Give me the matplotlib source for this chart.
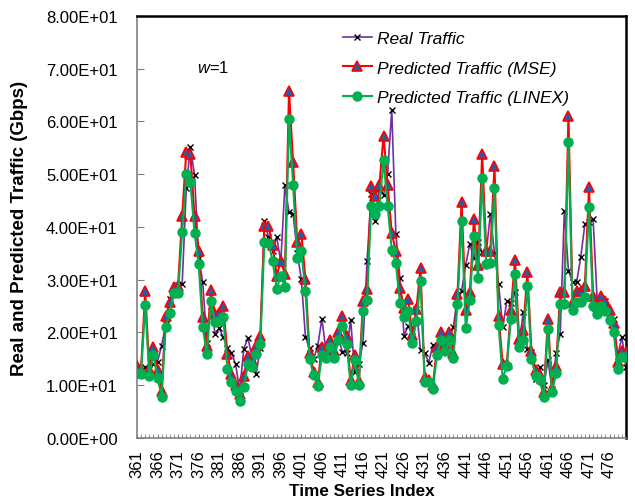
import matplotlib
matplotlib.use('Agg')
import matplotlib.pyplot as plt
from matplotlib.ticker import FuncFormatter, MultipleLocator

plt.rcParams['font.family'] = ['Liberation Sans', 'DejaVu Sans']
plt.rcParams['mathtext.fontset'] = 'custom'
plt.rcParams['mathtext.it'] = 'Liberation Sans:italic'
plt.rcParams['mathtext.rm'] = 'Liberation Sans'

START_INDEX = 361

real_traffic = [
    13.5, 12.5, 13.4, 13.0, 14.0, 14.5, 17.5, 21.6, 26.3, 28.2,
    29.0, 29.2, 47.3, 55.2, 49.9, 34.2, 29.6, 18.1, 25.1, 19.8,
    20.8, 19.1, 17.0, 16.2, 14.0, 9.0, 16.9, 19.0, 15.3, 12.1,
    17.0, 41.2, 38.1, 35.5, 38.1, 33.4, 47.9, 42.8, 42.5, 35.1,
    30.1, 19.1, 17.0, 15.0, 17.5, 22.6, 16.5, 15.9, 15.7, 19.0,
    16.3, 16.2, 22.4, 12.5, 14.0, 18.0, 33.6, 46.3, 41.2, 47.2,
    46.1, 50.1, 62.2, 38.7, 30.3, 19.4, 21.3, 19.4, 24.5, 16.6,
    16.1, 14.3, 17.6, 16.5, 17.5, 18.3, 19.0, 21.0, 27.0, 27.9,
    32.8, 36.8, 34.1, 37.2, 35.2, 35.2, 42.5, 35.0, 29.2, 21.0,
    25.9, 25.6, 27.6, 17.8, 23.8, 16.9, 16.3, 11.2, 13.4, 10.0,
    14.7, 9.3, 16.1, 19.7, 43.1, 31.7, 29.5, 29.6, 34.3, 40.6,
    41.0, 41.5, 26.0, 25.5, 26.0, 22.6, 22.6, 15.6, 19.2, 13.4,
]

pred_mse = [
    13.7, 13.0, 27.8, 13.0, 17.2, 12.8, 9.0, 23.2, 25.8, 28.7,
    28.9, 42.1, 54.2, 53.8, 42.1, 35.5, 23.0, 17.5, 28.1, 23.5,
    23.7, 25.0, 15.9, 12.1, 10.0, 8.3, 11.8, 15.5, 14.7, 17.5,
    19.4, 40.2, 40.2, 36.5, 30.8, 33.6, 31.1, 65.7, 52.3, 37.1,
    38.7, 30.1, 16.1, 12.5, 10.6, 17.3, 16.1, 18.5, 16.5, 20.1,
    23.1, 19.4, 11.0, 15.7, 10.8, 26.0, 28.2, 47.8, 45.9, 48.0,
    57.3, 48.0, 38.8, 35.5, 28.4, 24.6, 26.3, 19.5, 24.5, 32.2,
    11.5, 11.0, 10.0, 17.2, 20.0, 17.8, 20.0, 16.1, 27.3, 44.8,
    24.2, 27.6, 41.5, 32.7, 53.8, 35.5, 35.5, 51.6, 23.1, 14.0,
    14.0, 24.3, 33.8, 18.8, 20.5, 31.4, 16.5, 12.8, 12.0, 8.7,
    22.6, 9.5, 13.7, 27.6, 27.6, 61.0, 25.7, 27.9, 27.9, 28.9,
    47.5, 26.9, 25.0, 27.0, 26.0, 24.2, 21.8, 14.5, 16.5, 16.3,
]

pred_linex = [
    12.4, 12.1, 25.3, 11.8, 15.8, 11.4, 7.8, 21.1, 23.7, 27.5,
    27.5, 39.0, 50.0, 48.5, 38.9, 33.0, 21.0, 16.0, 26.0, 21.9,
    22.1, 22.9, 13.1, 10.7, 9.0, 7.1, 9.6, 14.0, 13.4, 15.9,
    17.8, 37.1, 37.0, 33.6, 28.3, 30.8, 28.6, 60.4, 48.0, 34.1,
    35.5, 27.8, 14.9, 12.0, 9.9, 15.7, 15.1, 17.2, 15.1, 18.5,
    21.3, 17.8, 10.1, 14.7, 10.1, 24.1, 26.2, 44.0, 42.5, 44.0,
    52.7, 44.0, 35.7, 33.1, 25.5, 22.9, 24.0, 18.1, 22.2, 29.8,
    10.7, 10.7, 9.3, 15.7, 18.5, 16.4, 18.5, 15.1, 25.4, 41.2,
    20.8, 26.2, 38.2, 30.3, 49.3, 33.0, 33.2, 47.4, 21.4, 11.2,
    13.7, 22.6, 31.1, 17.2, 18.5, 28.9, 15.0, 11.8, 10.9, 7.8,
    20.7, 8.7, 12.3, 25.4, 25.4, 56.1, 24.3, 25.7, 25.7, 26.7,
    43.7, 25.0, 23.5, 25.1, 24.0, 22.4, 20.0, 13.1, 15.3, 15.3,
]

index = list(range(START_INDEX, START_INDEX + len(real_traffic)))

fig = plt.figure(figsize=(6.35, 5.02), dpi=100)
ax = fig.add_axes([0.2157, 0.1255, 0.7701, 0.8407])

ax.plot(index, real_traffic, color='#7030A0', lw=1.2, marker='x', ms=5,
        mec='black', mew=1.0, label='Real Traffic', zorder=3)
ax.plot(index, pred_mse, color='#FF0000', lw=1.5, marker='^', ms=6.5,
        mfc='#1F5FAF', mec='#FF0000', mew=1.2, label='Predicted Traffic (MSE)', zorder=4)
ax.plot(index, pred_linex, color='#00B050', lw=1.5, marker='o', ms=6.5,
        mfc='#00B050', mec='#00B050', label='Predicted Traffic (LINEX)', zorder=5)

ax.set_xlim(index[0], index[-1])
ax.set_ylim(0, 80)
ax.yaxis.set_major_locator(MultipleLocator(10))
ax.yaxis.set_major_formatter(FuncFormatter(lambda v, p: f'{v:.2E}'))
ax.set_xticks(index[::5])
ax.set_xticklabels([str(i) for i in index[::5]], rotation=90)
ax.xaxis.set_minor_locator(MultipleLocator(1))

ax.tick_params(axis='y', direction='in', length=5, color='#808080', labelsize=12, pad=14)
ax.tick_params(axis='x', which='both', direction='in', length=3, color='#808080', labelsize=12, pad=8)

for side in ['left', 'bottom']:
    ax.spines[side].set_color('#808080')
    ax.spines[side].set_linewidth(1.2)
for side in ['top', 'right']:
    ax.spines[side].set_color('black')
    ax.spines[side].set_linewidth(1.8)

ax.set_xlabel('Time Series Index', fontsize=12.3, fontweight='bold')
ax.xaxis.set_label_coords((362 - 137) / 489, -(484 - 439) / 422)
ax.set_ylabel('Real and Predicted Traffic (Gbps)', fontsize=13.5, fontweight='bold')
ax.yaxis.set_label_coords(-(137 - 28) / 489, 0.5)

ax.text(0.123, 0.879, '$w$=1', transform=ax.transAxes, fontsize=12, va='center')

ax.legend(loc='upper left', bbox_to_anchor=(343 / 635, 1 - 32 / 502),
          bbox_transform=fig.transFigure, frameon=False, borderpad=0, borderaxespad=0,
          handlelength=1.65, handletextpad=0.3, labelspacing=0.82,
          prop={'style': 'italic', 'size': 12.5})

fig.savefig('out.png', dpi=100)
